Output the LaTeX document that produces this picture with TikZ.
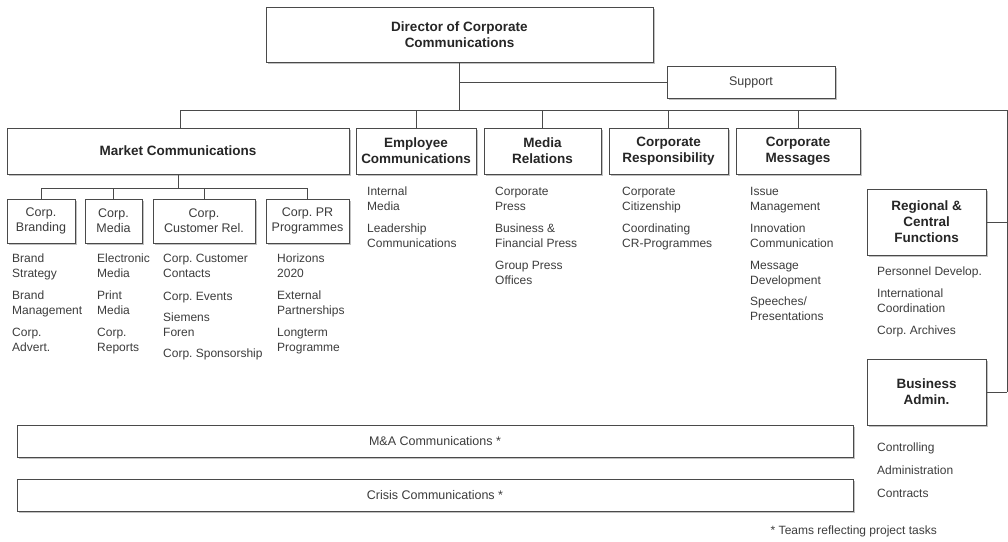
\documentclass[tikz,border=0pt]{standalone}
\usepackage{fontspec}
\setmainfont{Liberation Sans}
\frenchspacing
\usetikzlibrary{shadows}
\definecolor{linec}{HTML}{4A4A4A}
\definecolor{textc}{HTML}{3C3C3C}
\definecolor{headc}{HTML}{262626}
\tikzset{
  box/.style={draw=linec, line width=1pt, fill=white, inner sep=0pt,
    drop shadow={shadow xshift=2pt, shadow yshift=-2pt, fill=black!30, opacity=0.8}},
  head/.style={box, align=center, text=headc,
    font=\fontsize{13.5}{16}\selectfont\bfseries},
  plain/.style={box, align=center, text=textc,
    font=\fontsize{12.5}{15}\selectfont},
  items/.style={anchor=north west, align=left, inner sep=0pt, text=textc,
    font=\fontsize{12}{15}\selectfont},
  wire/.style={draw=linec, line width=1pt},
}
% first-line strut so every list starts at the same height
\newcommand{\liststart}{\rule{0pt}{9pt}}
\newcommand{\gap}{\\[7pt]}
\begin{document}
\begin{tikzpicture}[x=1pt, y=-1pt]
\useasboundingbox (0,0) rectangle (1008,541);

% top level
\node[head, minimum width=387, minimum height=55] (dir) at (459.5,34.5)
  {Director of Corporate\\Communications};
\node[plain, minimum width=168, minimum height=32] (sup) at (751,82) {Support};

% departments
\node[head, minimum width=342, minimum height=46] (mkt) at (178,151) {Market Communications};
\node[head, minimum width=120, minimum height=46] (emp) at (416,151) {Employee\\Communications};
\node[head, minimum width=117, minimum height=46] (med) at (542.5,151) {Media\\Relations};
\node[head, minimum width=119, minimum height=46] (resp) at (668.5,151) {Corporate\\Responsibility};
\node[head, minimum width=124, minimum height=46] (msg) at (798,151) {Corporate\\Messages};
\node[head, minimum width=119, minimum height=66] (reg) at (926.5,222) {Regional \&\\Central\\Functions};
\node[head, minimum width=119, minimum height=66] (adm) at (926.5,392) {Business\\Admin.};

% market communications teams
\node[plain, minimum width=68, minimum height=44] (brand) at (41,221) {Corp.\\Branding};
\node[plain, minimum width=57, minimum height=44] (cmed) at (113.5,221) {Corp.\\Media};
\node[plain, minimum width=102, minimum height=44] (cust) at (204,221) {Corp.\\Customer Rel.};
\node[plain, minimum width=83, minimum height=44] (pr) at (307.5,221) {Corp. PR\\Programmes};

% project teams
\node[plain, minimum width=836, minimum height=32] (ma) at (435,441) {M\&A Communications *};
\node[plain, minimum width=836, minimum height=32] (crisis) at (435,495) {Crisis Communications *};

% connectors
\coordinate (busL) at (180,110);
\coordinate (busR) at (1007,110);
\coordinate (subL) at (41,188);
\draw[wire] (dir.south) -- (dir.south |- busL);
\draw[wire] (dir.south |- sup.west) -- (sup.west);
\draw[wire] (busL) -- (busR) -- (busR |- adm.east);
\draw[wire] (reg.east) -- (busR |- reg.east);
\draw[wire] (adm.east) -- (busR |- adm.east);
\draw[wire] (mkt.north -| busL) -- (busL);
\foreach \n in {emp,med,resp,msg}
  \draw[wire] (\n.north) -- (\n.north |- busL);
\draw[wire] (mkt.south) -- (mkt.south |- subL);
\draw[wire] (subL) -- (pr.north |- subL);
\foreach \n in {brand,cmed,cust,pr}
  \draw[wire] (\n.north) -- (\n.north |- subL);

% task lists
\node[items] (l1) at (12,253) {\liststart Brand\\Strategy\gap Brand\\Management\gap Corp.\\Advert.};
\node[items] (l2) at (97,253) {\liststart Electronic\\Media\gap Print\\Media\gap Corp.\\Reports};
\node[items] (l3) at (163,253) {\liststart Corp. Customer\\Contacts\\[8pt]Corp. Events\\[6pt]Siemens\\Foren\\[6pt]Corp. Sponsorship};
\node[items] (l4) at (277,253) {\liststart Horizons\\2020\gap External\\Partnerships\gap Longterm\\Programme};
\node[items] (l5) at (367,186) {\liststart Internal\\Media\gap Leadership\\Communications};
\node[items] (l6) at (495,186) {\liststart Corporate\\Press\gap Business \&\\Financial Press\gap Group Press\\Offices};
\node[items] (l7) at (622,186) {\liststart Corporate\\Citizenship\gap Coordinating\\CR-Programmes};
\node[items] (l8) at (750,186) {\liststart Issue\\Management\gap Innovation\\Communication\gap Message\\Development\\[6pt]Speeches/\\Presentations};
\node[items] (l9) at (877,266) {\liststart Personnel Develop.\\[7pt]International\\Coordination\\[7pt]Corp. Archives};
\node[items] (l10) at (877,442) {\liststart Controlling\\[8pt]Administration\\[8pt]Contracts};

% footnote
\node[items, anchor=base east] (note) at (937,534) {* Teams reflecting project tasks};
\end{tikzpicture}
\end{document}
